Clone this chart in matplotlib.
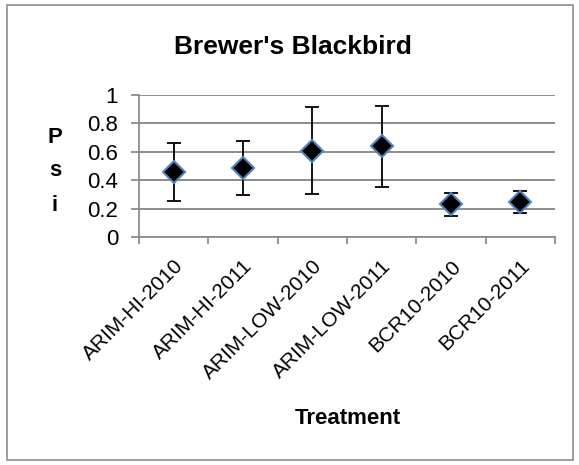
import matplotlib.pyplot as plt
from matplotlib.patches import Rectangle

# data
treatments = ['ARIM-HI-2010', 'ARIM-HI-2011', 'ARIM-LOW-2010',
              'ARIM-LOW-2011', 'BCR10-2010', 'BCR10-2011']
psi = [0.461, 0.489, 0.607, 0.639, 0.232, 0.248]
upper = [0.665, 0.674, 0.916, 0.923, 0.311, 0.326]
lower = [0.255, 0.293, 0.300, 0.351, 0.150, 0.169]

err_lo = [p - l for p, l in zip(psi, lower)]
err_hi = [u - p for p, u in zip(psi, upper)]

plt.rcParams['font.family'] = ['Liberation Sans', 'DejaVu Sans']

fig = plt.figure(figsize=(5.79, 4.65), dpi=100)
ax = fig.add_axes([139 / 579, 1 - 237 / 465, (555 - 139) / 579, (237 - 95) / 465])

x = list(range(len(treatments)))
ax.errorbar(x, psi, yerr=[err_lo, err_hi], fmt='none', ecolor='black',
            elinewidth=1.3, capsize=5, capthick=1.3, zorder=3)
ax.plot(x, psi, linestyle='none', marker='D', markersize=11.5,
        markerfacecolor='black', markeredgecolor='#4f81bd',
        markeredgewidth=1.5, zorder=4)

ax.set_xlim(-0.5, len(treatments) - 0.5)
ax.set_ylim(0, 1)
ax.set_yticks([0, 0.2, 0.4, 0.6, 0.8, 1])
ax.set_yticklabels(['0', '0.2', '0.4', '0.6', '0.8', '1'], fontsize=16)
ax.yaxis.grid(True, color='#8c8c8c', linewidth=1.4)
ax.set_axisbelow(True)

# category ticks on the boundaries, labels in the middle
ax.set_xticks([i - 0.5 for i in range(len(treatments) + 1)])
ax.set_xticklabels([])
ax.set_xticks(x, minor=True)
ax.set_xticklabels(treatments, minor=True, rotation=45, ha='right',
                   rotation_mode='anchor', fontsize=15)
ax.tick_params(axis='x', which='minor', length=0, pad=14)
ax.tick_params(axis='x', which='major', length=5, color='#8c8c8c', width=1.3)
ax.tick_params(axis='y', length=6, color='#8c8c8c', width=1.3, pad=9)

for side in ['top', 'right']:
    ax.spines[side].set_visible(False)
for side in ['left', 'bottom']:
    ax.spines[side].set_color('#8c8c8c')
    ax.spines[side].set_linewidth(1.3)

fig.text(293 / 579, 1 - 47 / 465, "Brewer's Blackbird", ha='center', va='center',
         fontsize=19, fontweight='bold')
fig.text(348 / 579, 1 - 418 / 465, 'Treatment', ha='center', va='center',
         fontsize=16, fontweight='bold')
for letter, yy in zip(['P', 's', 'i'], [137, 171, 205]):
    fig.text(55 / 579, 1 - yy / 465, letter, ha='center', va='center',
             fontsize=16, fontweight='bold')

# chart border
fig.patches.append(Rectangle((7 / 579, 5 / 465), 566 / 579, 455 / 465,
                             transform=fig.transFigure, fill=False,
                             edgecolor='#8c8c8c', linewidth=1.2))

fig.savefig('out.png', dpi=100)
